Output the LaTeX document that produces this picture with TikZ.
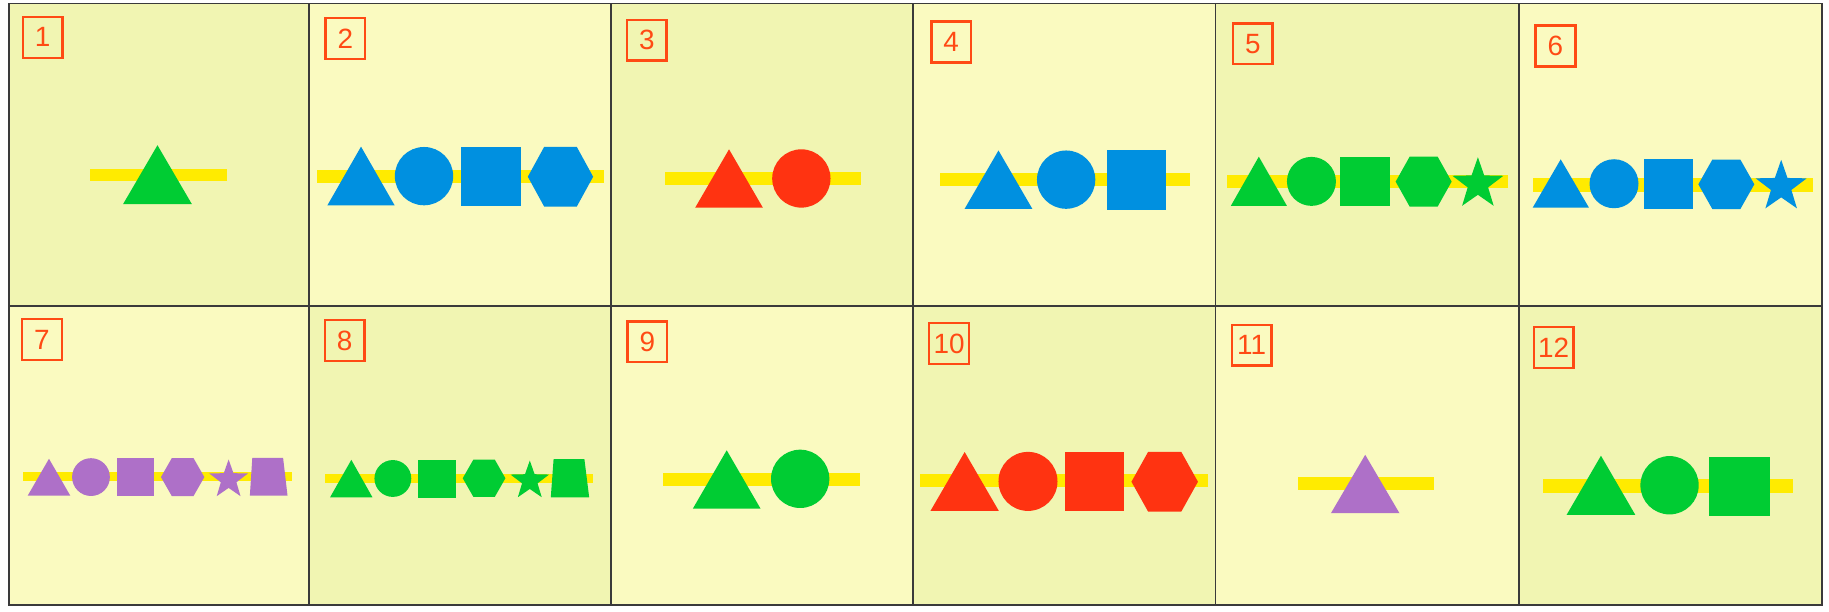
\documentclass[tikz,border=0pt]{standalone}
\usepackage{fontspec}
\setsansfont{Liberation Sans}
\usepackage{xcolor}
\usepackage{tikz}

\definecolor{paleYel}{HTML}{FAFAC0}
\definecolor{paleGrn}{HTML}{F1F5B2}
\definecolor{barYel}{HTML}{FFEB00}
\definecolor{shGreen}{HTML}{00CC33}
\definecolor{shBlue}{HTML}{0090E0}
\definecolor{shRed}{HTML}{FF3311}
\definecolor{shPurple}{HTML}{AE70C8}
\definecolor{numRed}{HTML}{FF4A14}
\definecolor{gridGray}{HTML}{3A3A3A}

% hexagon: colour, centre, x radius, y radius
\newcommand{\hexa}[4]{\fill[#1] (#2) +(0:#3 and #4) -- +(60:#3 and #4) -- +(120:#3 and #4)
  -- +(180:#3 and #4) -- +(240:#3 and #4) -- +(300:#3 and #4) -- cycle;}
% five-point star: colour, centre, outer radius, inner radius
\newcommand{\fstar}[4]{\fill[#1] (#2) +(-90:#3) -- +(-54:#4) -- +(-18:#3) -- +(18:#4) -- +(54:#3)
  -- +(90:#4) -- +(126:#3) -- +(162:#4) -- +(198:#3) -- +(234:#4) -- cycle;}

\begin{document}
\begin{tikzpicture}[
  x=0.01cm, y=-0.01cm,
  num/.style={draw=numRed, line width=0.6pt, text=numRed, inner sep=0pt,
              minimum width=0.34cm, minimum height=0.35cm,
              font=\sffamily\fontsize{6.8}{7}\selectfont},
  bar/.style={fill=barYel},
  cellline/.style={draw=gridGray, line width=0.45pt}
]
  \fill[white] (0,0) rectangle (1568,524);
  \useasboundingbox (0,0) rectangle (1568,524);

  % cell backgrounds
  \fill[paleGrn] (8,3) rectangle (265,262);
  \fill[paleYel] (265,3) rectangle (524,262);
  \fill[paleGrn] (524,3) rectangle (783,262);
  \fill[paleYel] (783,3) rectangle (1042,262);
  \fill[paleGrn] (1042,3) rectangle (1302,262);
  \fill[paleYel] (1302,3) rectangle (1562,262);
  \fill[paleYel] (8,262) rectangle (265,519);
  \fill[paleGrn] (265,262) rectangle (524,519);
  \fill[paleYel] (524,262) rectangle (783,519);
  \fill[paleGrn] (783,262) rectangle (1042,519);
  \fill[paleYel] (1042,262) rectangle (1302,519);
  \fill[paleGrn] (1302,262) rectangle (1562,519);

  % grid
  \draw[cellline] (8,3) rectangle (1562,519);
  \draw[cellline] (8,262) -- (1562,262);
  \draw[cellline] (265,3) -- (265,519);
  \draw[cellline] (524,3) -- (524,519);
  \draw[cellline] (783,3) -- (783,519);
  \draw[cellline] (1042,3) -- (1042,519);
  \draw[cellline] (1302,3) -- (1302,519);

  % numbers
  \node[num] (n1) at (36.5,32) {1};
  \node[num] (n2) at (296,33) {2};
  \node[num] (n3) at (554.5,34.5) {3};
  \node[num] (n4) at (815.5,36) {4};
  \node[num] (n5) at (1074,37.5) {5};
  \node[num] (n6) at (1333.5,39.3) {6};
  \node[num] (n7) at (36,291) {7};
  \node[num] (n8) at (295.5,292) {8};
  \node[num] (n9) at (555,293) {9};
  \node[num] (n10) at (813.6,294.5) {10};
  \node[num] (n11) at (1073,296) {11};
  \node[num] (n12) at (1332,298) {12};

  % 1
  \fill[bar] (77,144.5) rectangle (194.5,155.5);
  \fill[shGreen] (135,124.5) -- (164.5,175) -- (105.5,175) -- cycle;

  % 2
  \fill[bar] (272,146) rectangle (517.5,157);
  \fill[shBlue] (309.5,125.7) -- (338.3,176) -- (280.7,176) -- cycle;
  \fill[shBlue] (363.5,151) circle [radius=25];
  \fill[shBlue] (395,126) rectangle (446.5,177);
  \hexa{shBlue}{480.5,151.5}{28}{29.5}

  % 3
  \fill[bar] (570,147.5) rectangle (738,158.5);
  \fill[shRed] (625,128) -- (654,178) -- (596,178) -- cycle;
  \fill[shRed] (687,153) circle [radius=25];

  % 4
  \fill[bar] (806,148.5) rectangle (1020,159.5);
  \fill[shBlue] (856,129) -- (885,179) -- (827,179) -- cycle;
  \fill[shBlue] (914,154) circle [radius=25];
  \fill[shBlue] (949,129) rectangle (999.5,180);

  % 5
  \fill[bar] (1052,150) rectangle (1292.5,161.5);
  \fill[shGreen] (1079.2,134.3) -- (1103.3,176.5) -- (1055.2,176.5) -- cycle;
  \fill[shGreen] (1124.3,155.5) circle [radius=21];
  \fill[shGreen] (1149,134.3) rectangle (1192,177);
  \hexa{shGreen}{1220.5,155.7}{24}{24.7}
  \fstar{shGreen}{1267,157.8}{23}{9.2}

  % 6
  \fill[bar] (1314.5,153) rectangle (1554,164.5);
  \fill[shBlue] (1338,136.6) -- (1362.2,178) -- (1314,178) -- cycle;
  \fill[shBlue] (1383.7,157.5) circle [radius=21];
  \fill[shBlue] (1409.3,136.6) rectangle (1451.6,179);
  \hexa{shBlue}{1480,158}{24}{24.5}
  \fstar{shBlue}{1527,160}{23}{9.2}

  % 7
  \fill[bar] (19.3,405) rectangle (250.2,412.5);
  \fill[shPurple] (42,393.3) -- (60.3,425) -- (23.7,425) -- cycle;
  \fill[shPurple] (78,409) circle [radius=16.2];
  \fill[shPurple] (100,392.8) rectangle (132.2,425.4);
  \hexa{shPurple}{156.6,409}{18.6}{18.8}
  \fstar{shPurple}{196,411.3}{17.4}{7}
  \fill[shPurple] (214.2,425) -- (246.5,425) -- (242.7,392.5) -- (216.3,392.5) -- cycle;

  % 8
  \fill[bar] (278.7,406.5) rectangle (508.5,414);
  \fill[shGreen] (301.2,394.2) -- (319.3,426.3) -- (283,426.3) -- cycle;
  \fill[shGreen] (336.8,410.2) circle [radius=15.8];
  \fill[shGreen] (358.3,394.2) rectangle (390.9,426.8);
  \hexa{shGreen}{415,410}{18.3}{18.5}
  \fstar{shGreen}{454.2,412.2}{17.4}{7}
  \fill[shGreen] (472.2,426.3) -- (505.1,426.3) -- (501,393.6) -- (474.6,393.6) -- cycle;

  % 9
  \fill[bar] (568,405.5) rectangle (737,416.5);
  \fill[shGreen] (623,386) -- (652,436) -- (594,436) -- cycle;
  \fill[shGreen] (686,410.5) circle [radius=25];

  % 10
  \fill[bar] (788.6,406) rectangle (1035.5,417.5);
  \fill[shRed] (827,387.5) -- (856.3,438) -- (797.7,438) -- cycle;
  \fill[shRed] (881.3,412.7) circle [radius=25.3];
  \fill[shRed] (913,387.5) rectangle (963.6,438);
  \hexa{shRed}{998.5,413}{28.5}{29.5}

  % 11
  \fill[bar] (1112.7,408.5) rectangle (1229.6,420.5);
  \fill[shPurple] (1170.4,389.9) -- (1199.8,440) -- (1141,440) -- cycle;

  % 12
  \fill[bar] (1323,411) rectangle (1537,423);
  \fill[shGreen] (1372.5,390.7) -- (1402,441.5) -- (1343,441.5) -- cycle;
  \fill[shGreen] (1431.3,416) circle [radius=25];
  \fill[shGreen] (1465.4,391.4) rectangle (1517.2,442.7);
\end{tikzpicture}
\end{document}
